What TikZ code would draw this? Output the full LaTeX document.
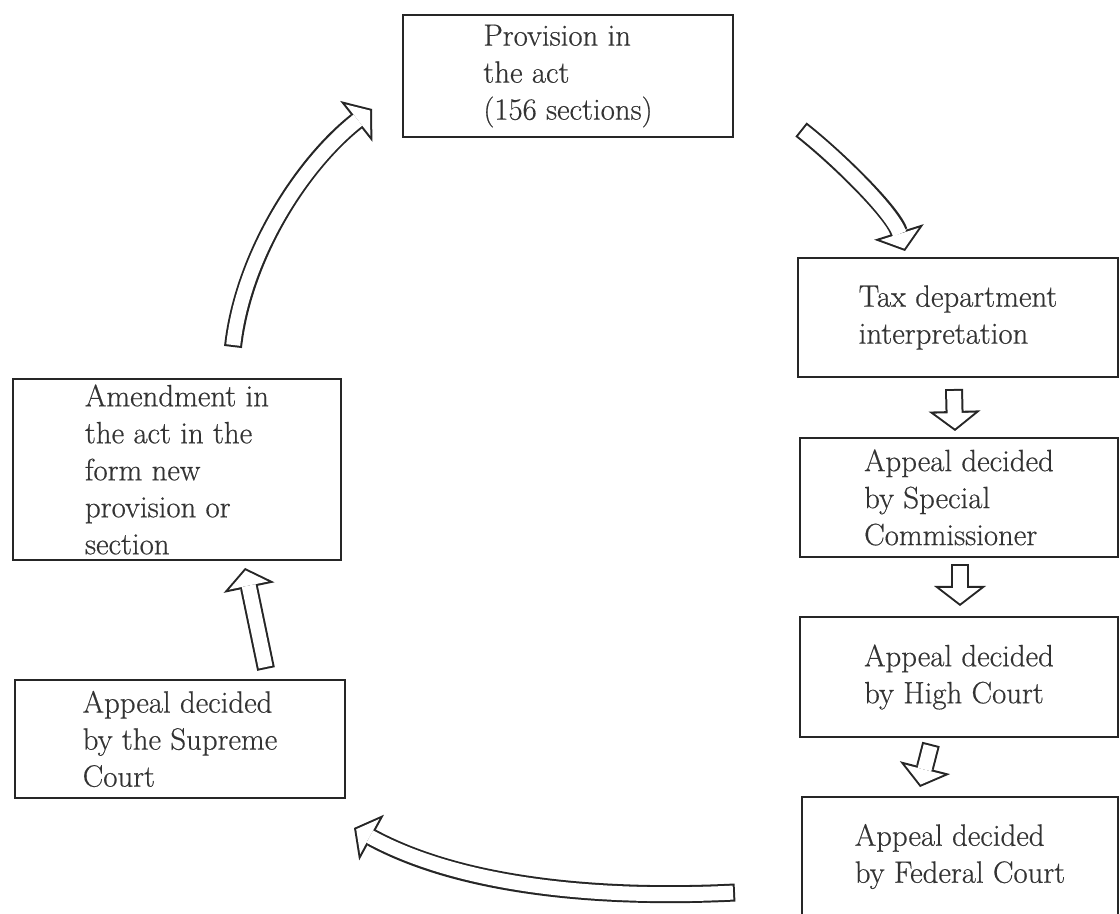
\documentclass[tikz,border=0pt]{standalone}
\usepackage{fontspec}
\usepackage{tikz}
\usetikzlibrary{arrows.meta}
\newfontfamily\boxfont{Latin Modern Roman}[FakeBold=0.5]

\tikzset{
  box/.style={draw=black!85, line width=1pt, align=left, inner sep=0pt,
    text=black!80, font=\boxfont\fontsize{15.4}{18.5}\selectfont},
  hollow/.style={draw=black!85, line width=9pt,
    -{Triangle[length=10pt, width=26pt, line width=0pt]},
    postaction={draw=white, line width=7pt, shorten <=1pt, shorten >=1.26pt,
      -{Triangle[length=7.7pt, width=20pt, line width=0pt]}}}
}

\begin{document}
\begin{tikzpicture}[x=0.5pt, y=-0.5pt]
\clip (0,0) rectangle (1120,914);
% the act and its interpretation
\node[box, minimum width=165pt, minimum height=61pt] (act) at (568,76) {Provision in\\the act\\(156 sections)};
\node[box, minimum width=160pt, minimum height=59.5pt] (tax) at (958,317.5) {Tax department\\interpretation};
\node[box, minimum width=159pt, minimum height=59.5pt] (spec) at (959,497.5) {Appeal decided\\by Special\\Commissioner};
\node[box, minimum width=159pt, minimum height=60pt] (high) at (959,677) {Appeal decided\\by High Court};
\node[box, minimum width=158pt, minimum height=59.5pt] (fed) at (960,856.5) {Appeal decided\\by Federal Court};
\node[box, minimum width=164pt, minimum height=90.5pt] (amend) at (177,469.5) {Amendment in\\the act in the\\form new\\provision or\\section};
\node[box, minimum width=165pt, minimum height=59pt] (supreme) at (180,739) {Appeal decided\\by the Supreme\\Court};
% block arrows
\draw[hollow] ([xshift=28pt,yshift=15.5pt]amend.north) .. controls +(5pt,45pt) and +(-35.5pt,-28pt) .. ([xshift=-15pt,yshift=-16.5pt]act.west);
\draw[hollow] ([xshift=33.5pt,yshift=-26.75pt]act.east) .. controls +(19pt,-15pt) and +(-6pt,19pt) .. ([xshift=-26.5pt,yshift=3pt]tax.north);
\draw[hollow] ([xshift=-2pt,yshift=-5.5pt]tax.south) -- ([xshift=-2pt,yshift=3pt]spec.north);
\draw[hollow] ([xshift=0.5pt,yshift=-3pt]spec.south) -- ([xshift=0.5pt,yshift=5pt]high.north);
\draw[hollow] ([xshift=-14pt,yshift=-3pt]high.south) -- ([xshift=-20pt,yshift=4.5pt]fed.north);
\draw[hollow] ([xshift=-33pt,yshift=-18pt]fed.west) .. controls +(-60pt,-3pt) and +(57pt,-31pt) .. ([xshift=4pt,yshift=-14.5pt]supreme.south east);
\draw[hollow] ([xshift=43pt,yshift=5pt]supreme.north) -- ([xshift=34pt,yshift=-3.5pt]amend.south);
\end{tikzpicture}
\end{document}
